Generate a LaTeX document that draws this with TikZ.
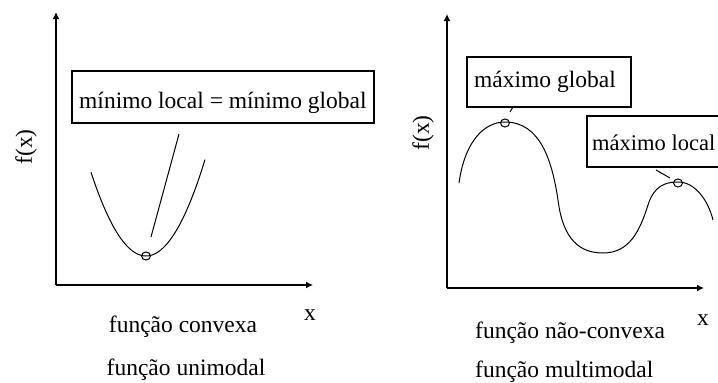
\documentclass[tikz,border=0pt]{standalone}
\usepackage{fontspec}
\setmainfont{Liberation Serif}
\usetikzlibrary{arrows.meta,shapes.geometric}
\begin{document}
\begin{tikzpicture}[x=1pt,y=-1pt,
  axis/.style={line width=1.6pt,-{Latex[length=7pt,width=7pt]}},
  lbl/.style={font=\fontsize{23.5}{26}\selectfont,inner sep=0pt},
  boxlbl/.style={draw,line width=1.4pt,font=\fontsize{23.5}{26}\selectfont,inner sep=0pt},
  curve/.style={line width=1pt},
  ptc/.style={draw,ellipse,line width=1pt,minimum width=9pt,minimum height=8pt,inner sep=0pt},
  leader/.style={line width=1pt}]
\useasboundingbox (0,0) rectangle (718,383);
\clip (0,0) rectangle (718,383);
% ---------- left panel ----------
\coordinate (lo) at (56,285);
\coordinate (ly) at (56,12);
\coordinate (lx) at (313,285);
\draw[axis] (lo) -- (ly);
\draw[axis] (lo) -- (lx);
\node[lbl,rotate=90] (lfx) at (26,147) {f(x)};
\node[lbl,anchor=base] (lxl) at (310,320) {x};
\node[boxlbl,minimum width=302pt,minimum height=52pt] (lbox) at (223,97) {};
\node[lbl,anchor=base west] (ltext) at (79,108) {mínimo local = mínimo global};
\draw[curve] plot[domain=91:205,samples=80] (\x,{256-0.0277*(\x-146)^2});
\node[ptc] (lmin) at (146,256) {};
\coordinate (ll1) at (179,134);
\coordinate (ll2) at (151,237);
\draw[leader] (ll1) -- (ll2);
\node[lbl,anchor=base] (lc1) at (183,332) {função convexa};
\node[lbl,anchor=base] (lc2) at (186,375) {função unimodal};
% ---------- right panel ----------
\coordinate (ro) at (447,288);
\coordinate (ry) at (447,14);
\coordinate (rx) at (704,288);
\draw[axis] (ro) -- (ry);
\draw[axis] (ro) -- (rx);
\node[lbl,rotate=90] (rfx) at (423,133) {f(x)};
\node[lbl,anchor=base] (rxl) at (703,325) {x};
\draw[curve] (459,183) .. controls (465,140) and (485,122) .. (505,122)
  .. controls (540,122) and (552,160) .. (558,200)
  .. controls (563,240) and (580,253) .. (603,253)
  .. controls (630,253) and (640,230) .. (648,205)
  .. controls (654,186) and (665,182) .. (678,182)
  .. controls (695,182) and (708,200) .. (713,220);
\node[ptc] (rgmax) at (505,123) {};
\node[ptc] (rlmax) at (678,183) {};
\node[boxlbl,minimum width=164pt,minimum height=50pt] (gbox) at (549,82) {};
\node[lbl,anchor=base west] (gtext) at (474,87) {máximo global};
\node[boxlbl,minimum width=150pt,minimum height=51pt] (lbox2) at (662,141.5) {};
\node[lbl,anchor=base west,font=\fontsize{22.5}{26}\selectfont] (ltext2) at (592,150) {máximo local};
\coordinate (rg1) at (513,107);
\coordinate (rg2) at (510,112);
\draw[leader] (rg1) -- (rg2);
\coordinate (rl1) at (656,170);
\coordinate (rl2) at (670,178);
\draw[leader] (rl1) -- (rl2);
\node[lbl,anchor=base west] (rc1) at (475,338) {função não-convexa};
\node[lbl,anchor=base west] (rc2) at (475,377) {função multimodal};
\end{tikzpicture}
\end{document}
